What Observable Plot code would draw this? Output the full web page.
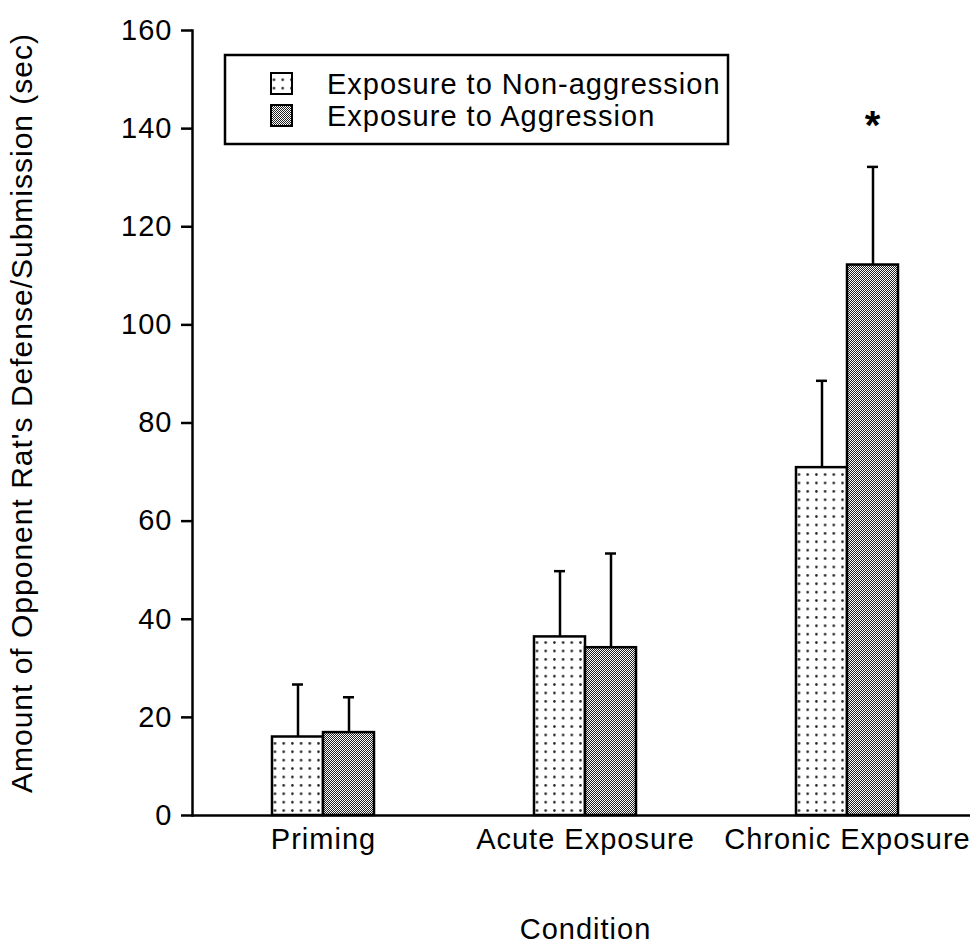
<!DOCTYPE html>
<html>
<head>
<meta charset="utf-8">
<script src="https://cdn.jsdelivr.net/npm/d3@7"></script>
<script src="https://cdn.jsdelivr.net/npm/@observablehq/plot@0.6"></script>
<style>
  html, body { margin: 0; padding: 0; background: #fff; }
  #chart svg text { letter-spacing: 1px; }
</style>
</head>
<body>
<div id="chart"></div>
<script>
// ---- data ----
const conditions = ["Priming", "Acute Exposure", "Chronic Exposure"];
const groups = ["Exposure to Non-aggression", "Exposure to Aggression"];
const nonAggressionMean = [16.0, 36.4, 70.9];
const nonAggressionSE   = [10.7, 13.4, 17.7];
const aggressionMean    = [16.9, 34.2, 112.2];
const aggressionSE      = [7.2, 19.2, 20.0];
const yTicks = [0, 20, 40, 60, 80, 100, 120, 140, 160];
const significance = [{condition: "Chronic Exposure", group: "Exposure to Aggression", label: "*", y: 141}];

const rows = [];
conditions.forEach((c, i) => {
  rows.push({condition: c, group: groups[0], mean: nonAggressionMean[i], se: nonAggressionSE[i]});
  rows.push({condition: c, group: groups[1], mean: aggressionMean[i], se: aggressionSE[i]});
});

const font = "'Liberation Sans', Arial, Helvetica, sans-serif";

const chart = Plot.plot({
  width: 970,
  height: 944,
  marginTop: 30,
  marginBottom: 129,
  marginLeft: 191,
  marginRight: 0,
  style: {fontFamily: font, fontSize: "28px", color: "black", background: "white"},
  fx: {domain: conditions, range: [191, 978], paddingInner: 0, paddingOuter: 0},
  x: {domain: groups, paddingInner: 0, paddingOuter: 1.52, axis: null},
  y: {domain: [0, 160]},
  color: {domain: groups, range: ["url(#patDots)", "url(#patChecks)"]},
  marks: [
    Plot.barY(rows, {fx: "condition", x: "group", y: "mean", fill: "group", stroke: "black", strokeWidth: 2.5}),
    Plot.ruleX(rows, {fx: "condition", x: "group", y1: "mean", y2: d => d.mean + d.se, stroke: "black", strokeWidth: 2.5}),
    Plot.tickY(rows, {fx: "condition", x: "group", y: d => d.mean + d.se, stroke: "black", strokeWidth: 2.5, insetLeft: 20, insetRight: 20}),
    Plot.text(significance, {fx: "condition", x: "group", y: "y", text: "label", fontSize: 40, fontWeight: "bold", dy: 2}),
    Plot.ruleY([0], {stroke: "black", strokeWidth: 2.5}),
    Plot.frame({anchor: "left", facetAnchor: "left", stroke: "black", strokeWidth: 2.5}),
    Plot.axisY({
      ticks: yTicks, tickFormat: d => String(d), tickSize: 11, tickPadding: 9, strokeWidth: 2.5,
      fontSize: 29,
      label: "Amount of Opponent Rat's Defense/Submission (sec)",
      labelAnchor: "center", labelArrow: "none", labelOffset: 182
    }),
    Plot.axisFx({
      anchor: "bottom", tickSize: 0, tickPadding: 13, fontSize: 29,
      label: "Condition", labelAnchor: "center", labelArrow: "none", labelOffset: 123
    })
  ]
});

document.getElementById("chart").appendChild(chart);

// y-axis title a little larger than ticks, nudged up as in the reference
d3.select(chart).selectAll('g[aria-label="y-axis label"]')
  .attr("transform", function () { return "translate(0,-10) " + (this.getAttribute("transform") || ""); });
d3.select(chart).selectAll('g[aria-label="y-axis label"] text').attr("font-size", 30);

// ---- patterns and legend ----
const svg = d3.select(chart);
const defs = svg.insert("defs", ":first-child");
const pd = defs.append("pattern").attr("id", "patDots").attr("patternUnits", "userSpaceOnUse")
  .attr("width", 8.7).attr("height", 8.4);
pd.append("rect").attr("width", 8.7).attr("height", 8.4).attr("fill", "white");
pd.append("circle").attr("cx", 4.3).attr("cy", 4.2).attr("r", 1.3).attr("fill", "#222");
const pc = defs.append("pattern").attr("id", "patChecks").attr("patternUnits", "userSpaceOnUse")
  .attr("width", 2).attr("height", 2);
pc.append("rect").attr("width", 2).attr("height", 2).attr("fill", "white");
pc.append("rect").attr("width", 1).attr("height", 1).attr("fill", "#222");
pc.append("rect").attr("x", 1).attr("y", 1).attr("width", 1).attr("height", 1).attr("fill", "#222");

const lg = svg.append("g").attr("font-family", font).attr("font-size", 29).attr("text-anchor", "start");
lg.append("rect").attr("x", 225).attr("y", 55).attr("width", 503).attr("height", 89)
  .attr("fill", "white").attr("stroke", "black").attr("stroke-width", 2.5);
groups.forEach((g, i) => {
  const cy = 84 + i * 32;
  lg.append("rect").attr("x", 271).attr("y", cy - 11).attr("width", 21).attr("height", 21)
    .attr("fill", i === 0 ? "url(#patDots)" : "url(#patChecks)").attr("stroke", "black").attr("stroke-width", 2);
  lg.append("text").attr("x", 327).attr("y", cy).attr("dy", "0.35em").attr("fill", "black")
    .attr("text-anchor", "start").text(g);
});
</script>
</body>
</html>
